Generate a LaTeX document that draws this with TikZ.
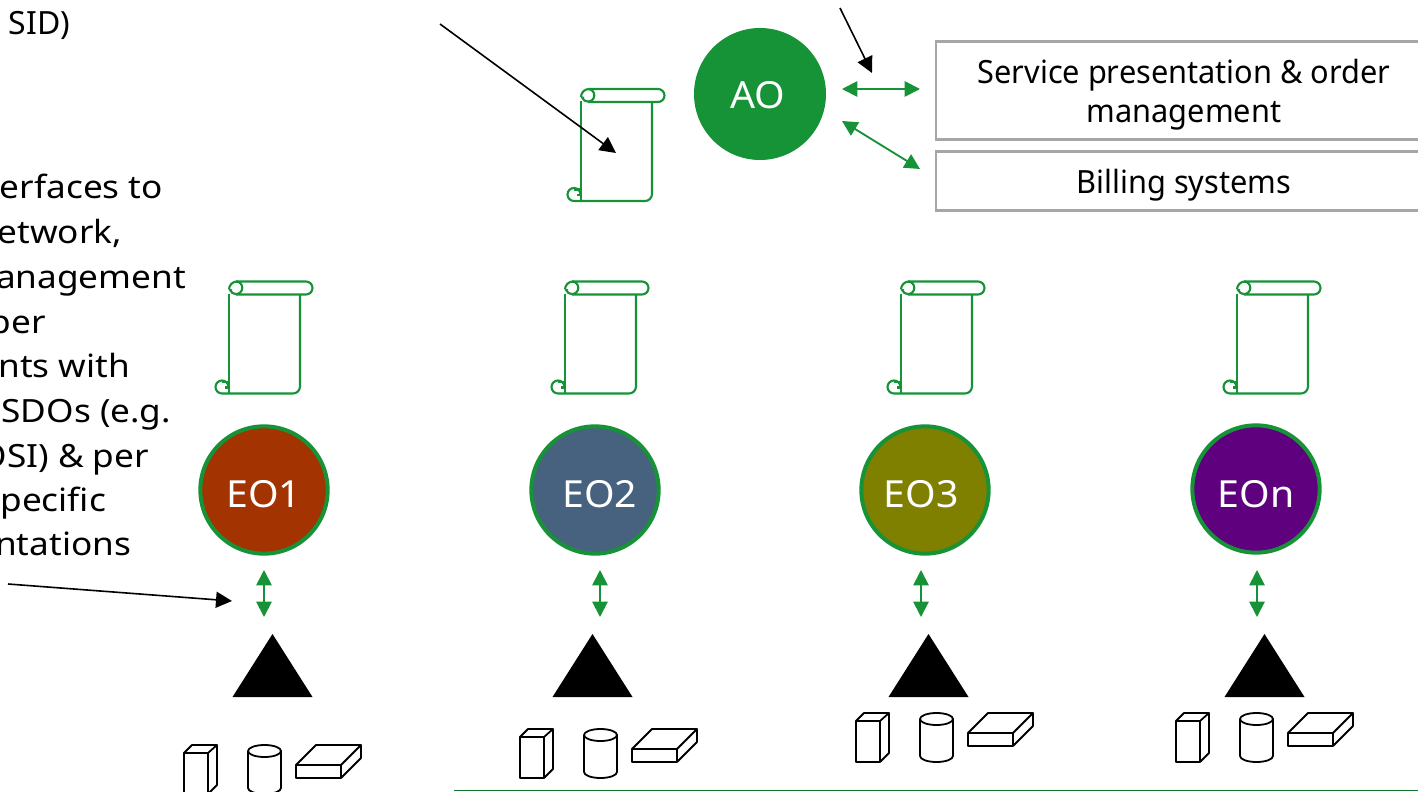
\documentclass[tikz,border=0pt]{standalone}
\usepackage{fontspec}
\setmainfont{Noto Sans}
\newfontfamily\sidefont{Noto Sans}[FakeStretch=1.1]
\newfontfamily\boxfont{Noto Sans}[FakeStretch=0.96]
\newfontfamily\discfont{Noto Sans}[FakeStretch=1.05]
\usetikzlibrary{arrows.meta}
\definecolor{gr}{HTML}{169237}
\definecolor{gbox}{HTML}{A6A6A6}
\definecolor{eoa}{HTML}{A33300}
\definecolor{eob}{HTML}{46627F}
\definecolor{eoc}{HTML}{7F7F00}
\definecolor{eod}{HTML}{5F007F}
\tikzset{
  x=0.75pt,y=-0.75pt,
  side/.style={font=\sidefont\fontsize{24}{33.5}\selectfont,text=black,inner sep=0,outer sep=0,anchor=base east},
  disc/.style={circle,draw=gr,line width=3pt,minimum size=95.5pt,inner sep=0,outer sep=0},
  disclabel/.style={font=\discfont\fontsize{28}{32}\selectfont,text=white,inner sep=0},
  sysbox/.style={draw=gbox,line width=2.2pt,fill=white,minimum width=372pt,inner sep=0,outer sep=0},
  boxtext/.style={font=\boxfont\fontsize{24}{29.25}\selectfont,text=black,inner sep=0,outer sep=0,align=center},
  greenarrow/.style={draw=gr,line width=1.4pt,{Triangle[length=11.5pt,width=11.5pt]}-{Triangle[length=11.5pt,width=11.5pt]}},
  blackarrow/.style={draw=black,line width=1.2pt,-{Triangle[length=12pt,width=12pt]}},
  scroll/.pic={
    \begin{scope}[draw=gr,line width=1.6pt,line join=round]
      \draw (0,12) -- (0,112);
      \draw (7,0) -- (77,0) arc[start angle=-90,end angle=90,radius=6.5] -- (7,13);
      \draw (0,8) arc[start angle=180,end angle=270,radius=8];
      \draw (7,0) arc[start angle=-90,end angle=160,radius=6.3] -- (3,9);
      \draw (71,13) -- (71,105) arc[start angle=0,end angle=90,radius=7] -- (-7,112);
      \draw (-7,112) arc[start angle=90,end angle=360,radius=6.5];
      \draw (-7,100.5) -- (0,100.5);
      \draw (-4,106) -- (0,106);
    \end{scope}
  },
  devices/.pic={
    \begin{scope}[draw=black,line width=1.35pt,line join=round,fill=white]
      \draw (0,0) rectangle (24,41);
      \draw (0,0) -- (8,-8) -- (33,-8) -- (24,0);
      \draw (33,-8) -- (33,32) -- (24,41);
      \draw (64,-2) -- (64,35) arc[start angle=180,end angle=0,x radius=16.5,y radius=6] -- (97,-2);
      \draw (80.5,-2) ellipse[x radius=16.5,y radius=6];
      \draw (112,12) rectangle (157,25);
      \draw (112,12) -- (132,-8) -- (177,-8) -- (157,12);
      \draw (177,-8) -- (177,5) -- (157,25);
    \end{scope}
  }
}
\begin{document}
\begin{tikzpicture}
\useasboundingbox (0,0) rectangle (1418,792);
\begin{scope}
\clip (0,0) rectangle (1418,792);

% left text
\node[side,font=\fontsize{24}{33.5}\selectfont] (t0) at (70,35) {SID)};
\node[side] (t1) at (163,198) {erfaces to};
\node[side] (t2) at (122,243) {etwork,};
\node[side] (t3) at (186,288) {management};
\node[side] (t4) at (46,333) {per};
\node[side] (t5) at (130,377) {nts with};
\node[side] (t6) at (171,422) {SDOs (e.g.};
\node[side] (t7) at (149,467) {OSI) \& per};
\node[side] (t8) at (106,511) {specific};
\node[side] (t9) at (131,555) {ntations};

% top right boxes
\node[sysbox,minimum height=74pt] (svc) at (1184,90.5) {};
\node[sysbox,minimum height=44pt] (bill) at (1184,181) {};
\node[boxtext] (svct) at (1184,95) {Service presentation \& order\\management};
\node[boxtext] (billt) at (1184,185) {Billing systems};

% AO
\node[circle,fill=gr,minimum size=99pt,inner sep=0,outer sep=0] (ao) at (760,94) {};
\node[disclabel] (aol) at (758,95) {AO};

% scrolls
\pic at (581,89) {scroll};
\pic at (229,281.5) {scroll};
\pic at (565,281.5) {scroll};
\pic at (901,281.5) {scroll};
\pic at (1237,281.5) {scroll};

% EO discs
\node[disc,fill=eoa] (e1) at (264,490) {};
\node[disc,fill=eob] (e2) at (595,490) {};
\node[disc,fill=eoc] (e3) at (925,490) {};
\node[disc,fill=eod] (e4) at (1256,489) {};
\node[disclabel] at (264,494) (l1) {EO1};
\node[disclabel] at (600,494) (l2) {EO2};
\node[disclabel] at (921,494) (l3) {EO3};
\node[disclabel] at (1256,494) (l4) {EOn};

% green arrows
\coordinate (a1) at (842,89); \coordinate (a2) at (920,89);
\coordinate (b1) at (842,121); \coordinate (b2) at (920,169);
\draw[greenarrow] (a1) -- (a2);
\draw[greenarrow] (b1) -- (b2);
\foreach \n/\x in {1/264,2/600,3/921,4/1257}{
  \coordinate (v\n a) at (\x,570);
  \coordinate (v\n b) at (\x,617);
  \draw[greenarrow] (v\n a) -- (v\n b);
}

% triangles
\foreach \x in {272.5,592.5,928.5,1264.5}{
  \fill[black] (\x,634) -- (\x+40,697) -- (\x-40,697) -- cycle;
}

% devices
\pic at (184,753) {devices};
\pic at (520,737) {devices};
\pic at (856,721) {devices};
\pic at (1176,721) {devices};

% black arrows
\coordinate (p1) at (440,24); \coordinate (p2) at (616,153);
\coordinate (q1) at (840,8); \coordinate (q2) at (872,73);
\coordinate (r1) at (8,584); \coordinate (r2) at (232,601);
\draw[blackarrow] (p1) -- (p2);
\draw[blackarrow] (q1) -- (q2);
\draw[blackarrow] (r1) -- (r2);

% bottom line
\coordinate (g1) at (454,790.5); \coordinate (g2) at (1418,790.5);
\draw[draw=gr!80!black,line width=1.3pt] (g1) -- (g2);
\end{scope}
\end{tikzpicture}
\end{document}
